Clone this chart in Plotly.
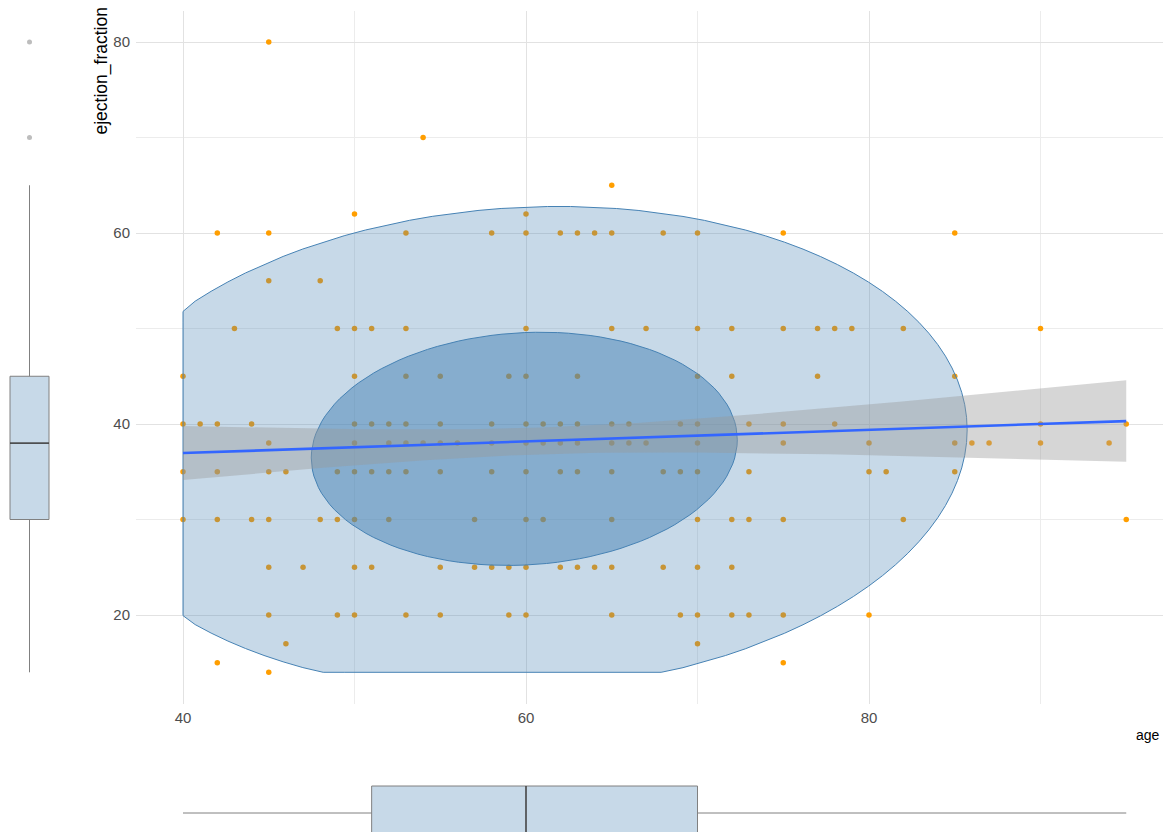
import numpy as np
import plotly.graph_objects as go

ages_ef80 = [45]
ages_ef70 = [54]
ages_ef65 = [65]
ages_ef62 = [50, 60]
ages_ef60 = [42, 45, 53, 58, 60, 62, 63, 64, 65, 68, 70, 75, 85]
ages_ef55 = [45, 48]
ages_ef50 = [43, 49, 50, 51, 53, 60, 65, 67, 70, 72, 75, 77, 78, 79, 82, 90]
ages_ef45 = [40, 50, 53, 55, 59, 60, 63, 70, 72, 77, 85]
ages_ef40 = [40, 41, 42, 44, 50, 51, 52, 53, 55, 58, 60, 61, 62, 63, 65, 66, 69, 70, 73, 75, 78, 90, 95]
ages_ef38 = [45, 50, 52, 53, 54, 55, 56, 58, 60, 61, 62, 63, 65, 66, 67, 70, 75, 80, 85, 86, 87, 90, 94]
ages_ef35 = [40, 42, 45, 46, 49, 50, 51, 52, 53, 55, 58, 60, 62, 63, 65, 68, 69, 70, 73, 80, 81, 85]
ages_ef30 = [40, 42, 44, 45, 48, 49, 50, 52, 57, 60, 61, 65, 70, 72, 73, 75, 82, 95]
ages_ef25 = [45, 47, 50, 51, 55, 57, 58, 59, 60, 62, 63, 64, 65, 68, 70, 72]
ages_ef20 = [45, 49, 50, 53, 55, 59, 60, 65, 69, 70, 72, 73, 75, 80]
ages_ef17 = [46, 70]
ages_ef15 = [42, 75]
ages_ef14 = [45]

ef_rows = [(80, ages_ef80), (70, ages_ef70), (65, ages_ef65), (62, ages_ef62),
           (60, ages_ef60), (55, ages_ef55), (50, ages_ef50), (45, ages_ef45),
           (40, ages_ef40), (38, ages_ef38), (35, ages_ef35), (30, ages_ef30),
           (25, ages_ef25), (20, ages_ef20), (17, ages_ef17), (15, ages_ef15),
           (14, ages_ef14)]
age = np.array([a for ef, ages in ef_rows for a in ages], dtype=float)
ejection_fraction = np.array([ef for ef, ages in ef_rows for a in ages], dtype=float)

# ---- summary statistics ----
ellipse_center = (59.9, 37.4)
ellipse_sd = (10.55, 10.37)
ellipse_rho = 0.078
ellipse_levels = [0.95, 0.5]

fit_intercept = 34.52
fit_slope = 0.0609
fit_n = 299
fit_age_mean = 60.83
fit_age_sd = 11.89
fit_resid_sd = 12.3
fit_t = 1.968

age_box = dict(q1=51, median=60, q3=70, lo=40, hi=95)
ef_box = dict(q1=30, median=38, q3=45, lo=14, hi=65)
ef_outliers = [70, 80]

x_ticks = [40, 60, 80]
x_minor = [50, 70, 90]
y_ticks = [20, 40, 60, 80]
y_minor = [30, 50, 70]

STEEL = "#4682B4"
STEEL_FILL = "rgba(70,130,180,0.3)"
STEEL_FILL_IN = "rgba(70,130,180,0.5)"
ORANGE = "#FF9E00"

# page body has an 8px margin: lay out in screen pixels, shifted by it,
# and keep the figure inside the body so nothing is clipped
OFF = 8
SW, SH = 1171, 840
W, H = SW - 2 * OFF, SH - 2 * OFF


def fx(px):  # screen x pixel -> paper fraction
    return (px - OFF) / W


def fy(py):  # screen y pixel -> paper fraction (from bottom)
    return 1 - (py - OFF) / H


fig = go.Figure()

# points
fig.add_trace(go.Scatter(x=age, y=ejection_fraction, mode="markers",
                         marker=dict(color=ORANGE, size=5.5, line=dict(width=0)),
                         xaxis="x", yaxis="y", hoverinfo="x+y"))

# data ellipses (squished to the data range)
cov = np.array([[ellipse_sd[0] ** 2, ellipse_rho * ellipse_sd[0] * ellipse_sd[1]],
                [ellipse_rho * ellipse_sd[0] * ellipse_sd[1], ellipse_sd[1] ** 2]])
L = np.linalg.cholesky(cov)
t = np.linspace(0, 2 * np.pi, 121)
circ = np.vstack([np.cos(t), np.sin(t)])
for lvl, fc in zip(ellipse_levels, [STEEL_FILL, STEEL_FILL_IN]):
    r = np.sqrt(-2 * np.log(1 - lvl))
    pts = (L @ circ) * r
    ex = np.clip(pts[0] + ellipse_center[0], age.min(), age.max())
    ey = np.clip(pts[1] + ellipse_center[1], ejection_fraction.min(), ejection_fraction.max())
    fig.add_trace(go.Scatter(x=ex, y=ey, mode="lines", fill="toself", fillcolor=fc,
                             line=dict(color=STEEL, width=1), xaxis="x", yaxis="y",
                             hoverinfo="skip"))

# regression line + confidence band
gx = np.linspace(age.min(), age.max(), 80)
gy = fit_intercept + fit_slope * gx
se = fit_resid_sd * np.sqrt(1 / fit_n + (gx - fit_age_mean) ** 2 / ((fit_n - 1) * fit_age_sd ** 2))
upper = gy + fit_t * se
lower = gy - fit_t * se
fig.add_trace(go.Scatter(x=np.concatenate([gx, gx[::-1]]), y=np.concatenate([upper, lower[::-1]]),
                         mode="lines", fill="toself", fillcolor="rgba(153,153,153,0.4)",
                         line=dict(width=0), xaxis="x", yaxis="y", hoverinfo="skip"))
fig.add_trace(go.Scatter(x=gx, y=gy, mode="lines", line=dict(color="#3366FF", width=2.6),
                         xaxis="x", yaxis="y", hoverinfo="skip"))

# left marginal boxplot (ejection_fraction); its x axis is in screen pixels
LB_POS, LB_W = 29.5, 39
fig.add_trace(go.Box(x=[LB_POS], q1=[ef_box["q1"]], median=[ef_box["median"]], q3=[ef_box["q3"]],
                     lowerfence=[ef_box["lo"]], upperfence=[ef_box["hi"]], width=LB_W,
                     fillcolor=STEEL_FILL, line=dict(color="#808080", width=1), whiskerwidth=0,
                     xaxis="x2", yaxis="y2", hoverinfo="skip"))
fig.add_trace(go.Scatter(x=[LB_POS - LB_W / 2, LB_POS + LB_W / 2],
                         y=[ef_box["median"], ef_box["median"]], mode="lines",
                         line=dict(color="#333333", width=1.2), xaxis="x2", yaxis="y2",
                         hoverinfo="skip"))
fig.add_trace(go.Scatter(x=[LB_POS] * len(ef_outliers), y=ef_outliers, mode="markers",
                         marker=dict(color="#BDBDBD", size=5), xaxis="x2", yaxis="y2",
                         hoverinfo="skip"))

# bottom marginal boxplot (age); its y axis is in pixels above the window bottom
BB_POS, BB_W = 27, 54
fig.add_trace(go.Box(y=[BB_POS], q1=[age_box["q1"]], median=[age_box["median"]], q3=[age_box["q3"]],
                     lowerfence=[age_box["lo"]], upperfence=[age_box["hi"]], width=BB_W,
                     orientation="h", fillcolor=STEEL_FILL, line=dict(color="#808080", width=1),
                     whiskerwidth=0, xaxis="x3", yaxis="y3", hoverinfo="skip"))
fig.add_trace(go.Scatter(x=[age_box["median"], age_box["median"]],
                         y=[BB_POS - BB_W / 2, BB_POS + BB_W / 2], mode="lines",
                         line=dict(color="#333333", width=1.2), xaxis="x3", yaxis="y3",
                         hoverinfo="skip"))

# ---- layout ----
X40, PX_PER_AGE = 183, 17.15
Y80, PX_PER_EF = 42, 9.55
panel_left, panel_right = 136, OFF + W
panel_top, panel_bottom = 10.5, 704

x_dom = [fx(panel_left), 1.0]
x_rng = [40 - (X40 - panel_left) / PX_PER_AGE, 40 + (panel_right - X40) / PX_PER_AGE]
y_dom = [fy(panel_bottom), fy(panel_top)]
y_rng = [80 - (panel_bottom - Y80) / PX_PER_EF, 80 + (Y80 - panel_top) / PX_PER_EF]

tick_font = dict(family="Liberation Sans, Arial, sans-serif", size=15, color="#4D4D4D")
grid_major = "#E2E2E2"
grid_minor = "#ECECEC"

fig.update_layout(
    width=W, height=H, margin=dict(l=0, r=0, t=0, b=0, pad=0),
    paper_bgcolor="white", plot_bgcolor="white", showlegend=False,
    font=dict(family="Liberation Sans, Arial, sans-serif"),
    xaxis=dict(domain=x_dom, range=x_rng, tickvals=x_ticks, showgrid=True, gridcolor=grid_major,
               gridwidth=1, zeroline=False, showline=False, ticks="", tickfont=tick_font,
               ticklabelstandoff=3,
               minor=dict(tickvals=x_minor, showgrid=True, gridcolor=grid_minor, gridwidth=1)),
    yaxis=dict(domain=y_dom, range=y_rng, tickvals=y_ticks, showgrid=True, gridcolor=grid_major,
               gridwidth=1, zeroline=False, showline=False, ticks="", tickfont=tick_font,
               ticklabelstandoff=5,
               minor=dict(tickvals=y_minor, showgrid=True, gridcolor=grid_minor, gridwidth=1)),
    xaxis2=dict(domain=[0, fx(68)], range=[OFF, 68], visible=False),
    yaxis2=dict(domain=y_dom, range=y_rng, visible=False),
    xaxis3=dict(domain=x_dom, range=x_rng, visible=False),
    yaxis3=dict(domain=[0, fy(740)], range=[SH - (OFF + H), SH - 740], visible=False),
    annotations=[
        dict(text="ejection_fraction", x=fx(101), y=fy(6), xref="paper", yref="paper",
             xanchor="center", yanchor="top", textangle=-90, showarrow=False,
             font=dict(size=17.5, color="black")),
        dict(text="age", x=fx(1162), y=fy(735), xref="paper", yref="paper",
             xanchor="right", yanchor="middle", showarrow=False,
             font=dict(size=14, color="black")),
    ],
)

fig.write_html("out.html")
